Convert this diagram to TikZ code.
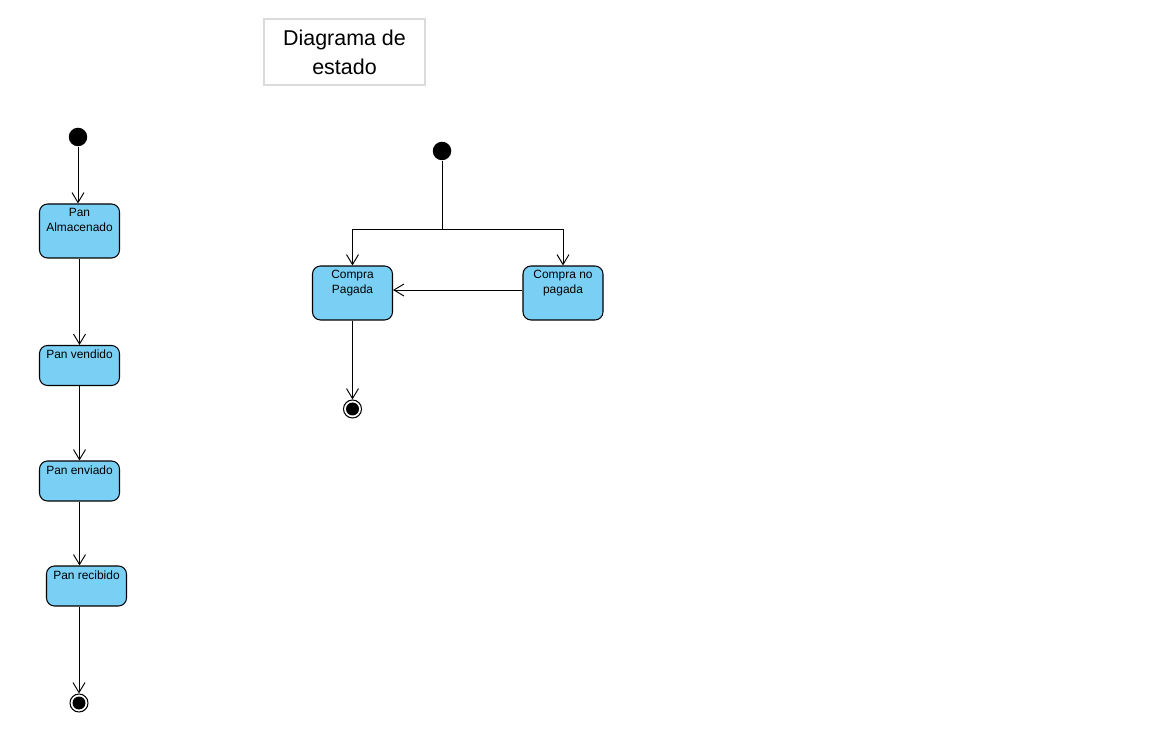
\documentclass[tikz,border=0pt]{standalone}
\usepackage{fontspec}
\setmainfont{Liberation Sans}
\usetikzlibrary{arrows.meta,positioning}
\definecolor{statefill}{RGB}{122,207,245}
\tikzset{
  st/.style={draw, line width=0.6pt, rounded corners=0.16cm, fill=statefill,
    minimum width=1.6cm, minimum height=#1},
  st/.default=0.8cm,
  sttext/.style={anchor=north, align=center, inner sep=2.6pt,
    font=\fontsize{6.8}{8.5}\selectfont},
  ini/.style={circle, fill=black, inner sep=0pt, minimum size=0.37cm},
  fin/.style={circle, draw, line width=0.6pt, inner sep=0pt, minimum size=0.36cm,
    path picture={\fill (path picture bounding box.center) circle (0.13cm);}},
  arr/.style={-{Straight Barb[length=0.2cm,width=0.24cm]}, line width=0.55pt},
  ln/.style={line width=0.55pt}
}
\begin{document}
\begin{tikzpicture}[x=0.02cm,y=-0.02cm]
        \useasboundingbox (0,0) rectangle (1152,742);
        \node[draw=black!14, line width=0.6pt, minimum width=3.22cm, minimum height=1.32cm,
          align=center, font=\fontsize{12.2}{16.4}\selectfont] (title) at (344.5,52) {Diagrama de\\estado};

        \node[ini] (I1) at (78,137) {};
        \node[st=1.08cm, label={[sttext]north:Pan\\Almacenado}] (alm) at (79.5,231) {};
        \node[st, label={[sttext]north:Pan vendido}] (ven) at (79.5,365.5) {};
        \node[st, label={[sttext]north:Pan enviado}] (env) at (79.5,481) {};
        \node[st, label={[sttext]north:Pan recibido}] (rec) at (86.5,586) {};
        \node[fin] (F1) at (79,703) {};

        \node[ini] (I2) at (442,151) {};
        \coordinate (split) at (442,229);
        \node[st=1.08cm, label={[sttext]north:Compra\\Pagada}] (cp) at (352.5,293) {};
        \node[st=1.08cm, label={[sttext]north:Compra no\\pagada}] (cnp) at (563,293) {};
        \node[fin] (F2) at (352.5,409) {};

        \begin{scope}
          \draw[arr] (I1) -- (I1 |- alm.north);
          \draw[arr] (alm) -- (ven);
          \draw[arr] (ven) -- (env);
          \draw[arr] (env.south) -- (env.south |- rec.north);
          \draw[arr] (rec.south -| F1) -- (F1);
          \draw[ln] (I2) -- (split);
          \draw[arr] (split) -| (cp.north);
          \draw[arr] (split) -| (cnp.north);
          \draw[arr] ([yshift=0.06cm]cnp.west) -- ([yshift=0.06cm]cp.east);
          \draw[arr] (cp) -- (F2);
        \end{scope}
      \end{tikzpicture}
\end{document}
